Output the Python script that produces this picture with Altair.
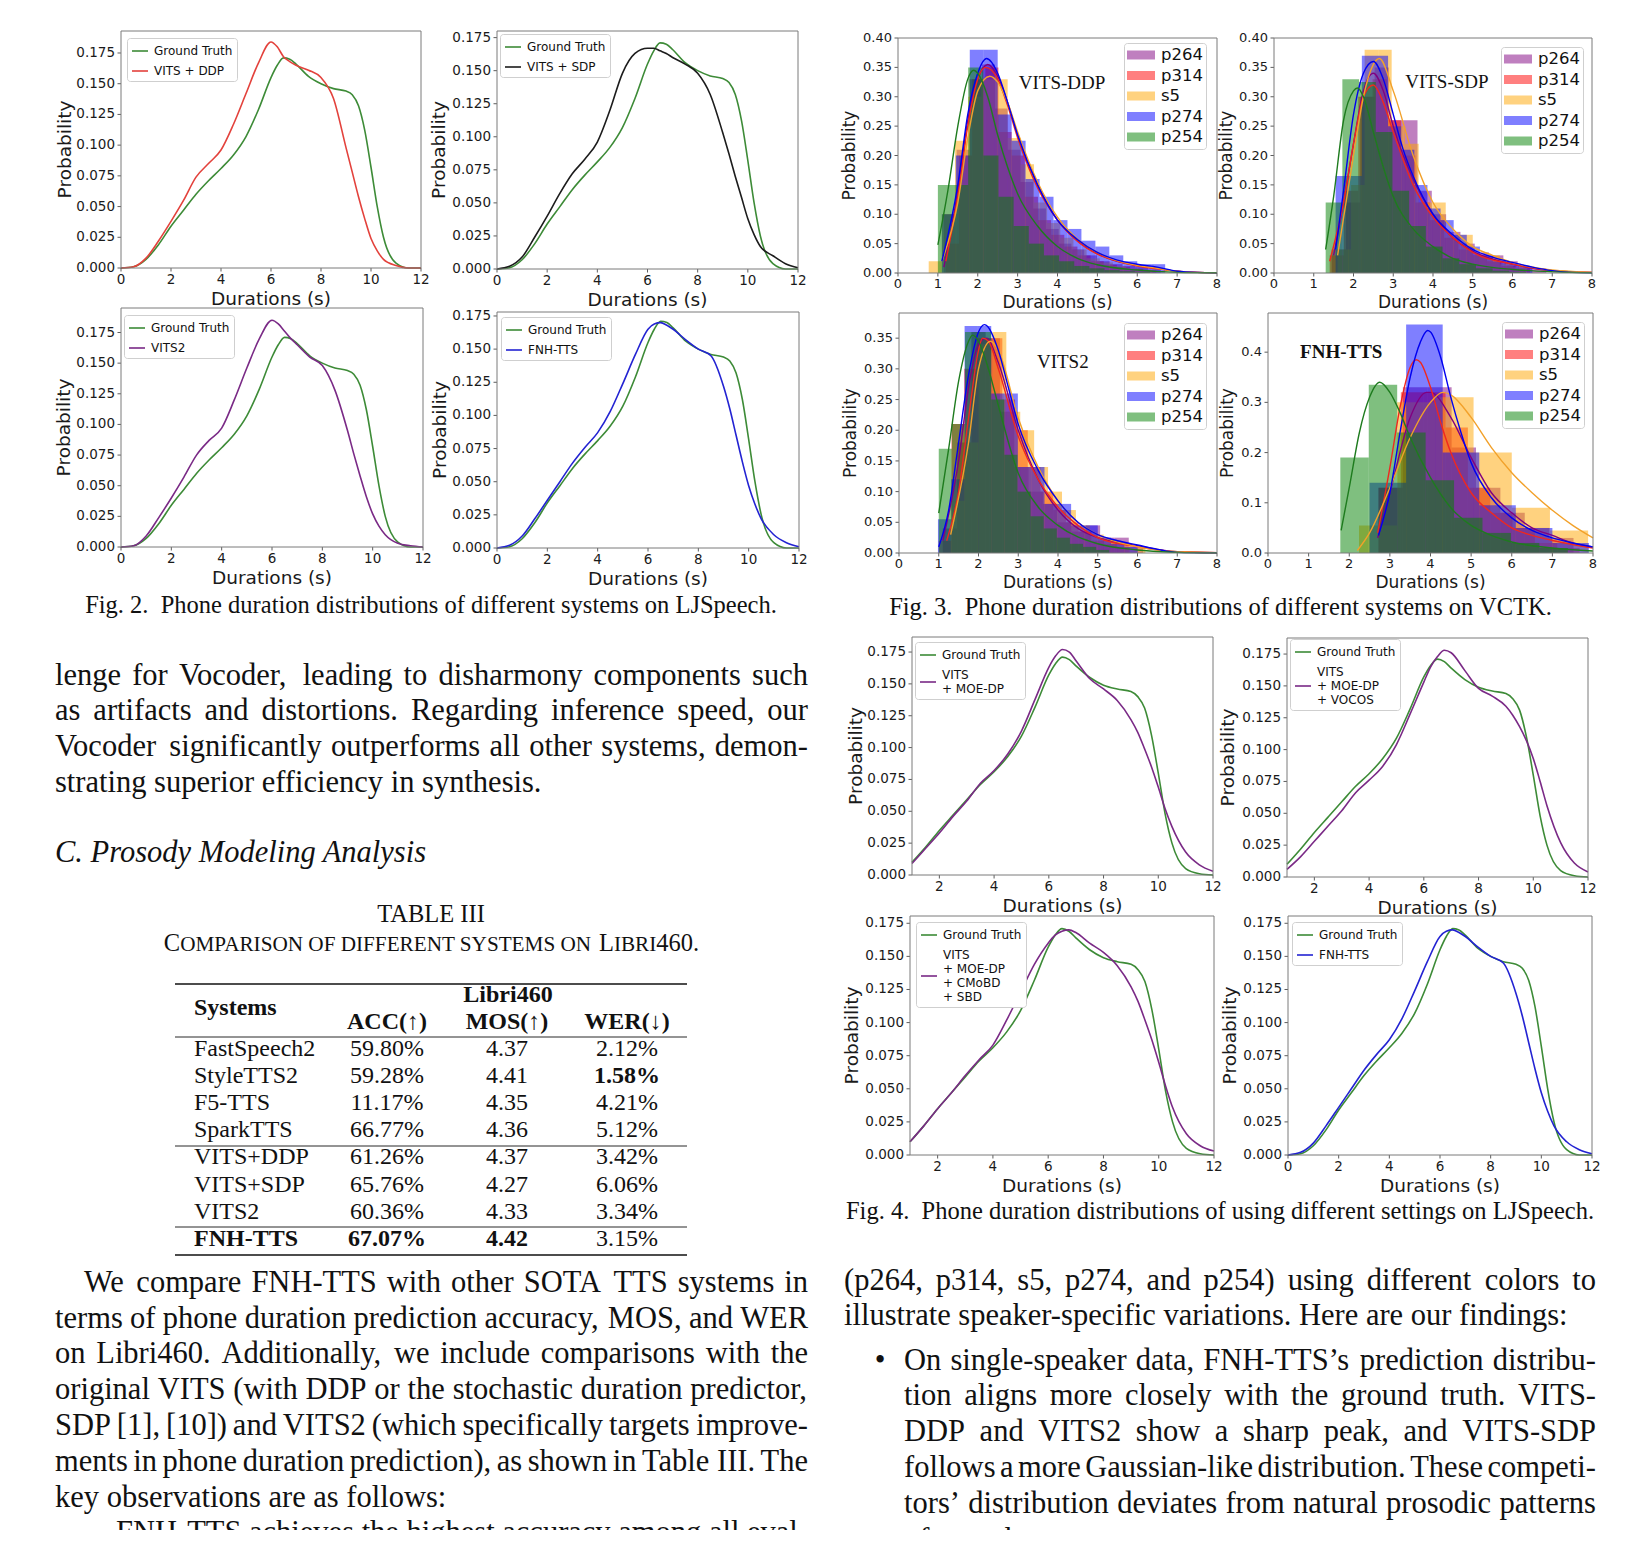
import altair as alt
import pandas as pd

W, H = 1632, 1522          # whole page (minus 8px margins) drawn as one canvas
M = 8                      # page margin
SANS = "DejaVu Sans"
SERIF = "Liberation Serif"
INK = "#111111"

# ----------------------------------------------------------------- Fig. 2 / Fig. 4 data
X_LJ = [0, 0.5, 1, 1.5, 2, 2.5, 3, 3.5, 4, 4.5, 5, 5.5, 6, 6.25, 6.5, 6.75, 7, 7.5,
        8, 8.5, 9, 9.25, 9.5, 9.75, 10, 10.25, 10.5, 11, 11.5, 12]
GT_LJ = [0.000, 0.001, 0.007, 0.019, 0.034, 0.047, 0.060, 0.071, 0.081, 0.092,
         0.107, 0.129, 0.155, 0.165, 0.171, 0.170, 0.166, 0.156, 0.150, 0.146,
         0.144, 0.141, 0.132, 0.112, 0.082, 0.050, 0.025, 0.004, 0.000, 0.000]
VITS_DDP = [0.000, 0.001, 0.008, 0.022, 0.038, 0.055, 0.074, 0.085, 0.096, 0.117,
            0.142, 0.167, 0.184, 0.180, 0.172, 0.168, 0.165, 0.161, 0.155, 0.138,
            0.098, 0.078, 0.058, 0.040, 0.024, 0.014, 0.007, 0.002, 0.000, 0.000]
VITS_SDP = [0.000, 0.002, 0.009, 0.024, 0.040, 0.057, 0.072, 0.083, 0.096, 0.120,
            0.148, 0.163, 0.167, 0.167, 0.165, 0.163, 0.160, 0.155, 0.148, 0.132,
            0.103, 0.087, 0.070, 0.054, 0.038, 0.026, 0.017, 0.010, 0.004, 0.001]
VITS2_LJ = [0.000, 0.001, 0.009, 0.024, 0.040, 0.057, 0.075, 0.087, 0.097, 0.120,
            0.146, 0.170, 0.185, 0.182, 0.176, 0.170, 0.165, 0.155, 0.148, 0.128,
            0.095, 0.076, 0.058, 0.041, 0.027, 0.017, 0.010, 0.003, 0.001, 0.000]
FNH_LJ = [0.000, 0.002, 0.009, 0.022, 0.036, 0.050, 0.064, 0.076, 0.087, 0.103,
          0.124, 0.146, 0.165, 0.169, 0.170, 0.168, 0.165, 0.157, 0.150, 0.145,
          0.122, 0.105, 0.085, 0.065, 0.047, 0.033, 0.022, 0.010, 0.004, 0.001]
X_LJ4 = X_LJ[2:]
GT_LJ4 = [0.010, 0.022, 0.035, 0.047, 0.059, 0.071, 0.081, 0.093,
          0.109, 0.132, 0.157, 0.166, 0.171, 0.169, 0.164, 0.155, 0.149, 0.146,
          0.144, 0.140, 0.131, 0.110, 0.080, 0.048, 0.025, 0.005, 0.001, 0.000]
MOE_DP = [0.009, 0.021, 0.033, 0.046, 0.058, 0.072, 0.082, 0.095,
          0.113, 0.138, 0.163, 0.172, 0.177, 0.175, 0.168, 0.154, 0.146, 0.137,
          0.122, 0.112, 0.099, 0.085, 0.069, 0.052, 0.038, 0.018, 0.008, 0.003]
MOE_DP_VOCOS = [0.006, 0.016, 0.028, 0.040, 0.052, 0.066, 0.076, 0.087,
                0.104, 0.128, 0.153, 0.165, 0.173, 0.178, 0.176, 0.162, 0.148, 0.142,
                0.134, 0.127, 0.118, 0.107, 0.093, 0.075, 0.056, 0.027, 0.011, 0.004]
MOE_DP_CMOBD_SBD = [0.010, 0.022, 0.035, 0.047, 0.060, 0.072, 0.083, 0.102,
                    0.123, 0.144, 0.160, 0.166, 0.169, 0.170, 0.168, 0.160, 0.153, 0.143,
                    0.127, 0.116, 0.102, 0.087, 0.070, 0.052, 0.036, 0.016, 0.007, 0.003]

C_GT, C_RED, C_BLACK, C_PURPLE, C_BLUE = "#3d8b37", "#e3423c", "#1c1c1c", "#7a2a86", "#2323d2"
LJ_YTICKS = [0.0, 0.025, 0.05, 0.075, 0.1, 0.125, 0.15, 0.175]

# ----------------------------------------------------------------- Fig. 3 data (VCTK)
SPEAKERS = ["p264", "p314", "s5", "p274", "p254"]
SPK_FILL = ["#800080", "#ff0000", "#ffa500", "#0000ff", "#008000"]
SPK_LINE = ["#800080", "#f0281e", "#f2a12a", "#0000f0", "#1e7b1e"]

# histogram: (first bin edge, bin width, bar heights)
DDP_HIST = {
    "p264": (1.15, 0.32, [0.10, 0.21, 0.33, 0.355, 0.28, 0.21, 0.155, 0.11, 0.075, 0.05, 0.04, 0.03, 0.02, 0.015, 0.012, 0.01, 0.006]),
    "p314": (1.20, 0.33, [0.05, 0.20, 0.33, 0.35, 0.24, 0.20, 0.13, 0.09, 0.065, 0.045, 0.03, 0.02, 0.014, 0.01, 0.007, 0.004]),
    "s5":   (0.77, 0.33, [0.02, 0.10, 0.225, 0.30, 0.33, 0.33, 0.23, 0.185, 0.12, 0.085, 0.06, 0.04, 0.025, 0.018, 0.012, 0.008, 0.005]),
    "p274": (1.10, 0.35, [0.10, 0.20, 0.38, 0.38, 0.27, 0.225, 0.16, 0.13, 0.09, 0.075, 0.055, 0.045, 0.03, 0.02, 0.015, 0.015]),
    "p254": (1.00, 0.38, [0.15, 0.15, 0.35, 0.20, 0.13, 0.08, 0.05, 0.03, 0.02, 0.012, 0.008, 0.005, 0.003, 0.002]),
}
DDP_KDE = {
    "p264": ([1.15, 1.5, 1.75, 2.0, 2.25, 2.5, 2.75, 3.0, 3.5, 4.0, 4.5, 5.0, 5.5, 6.0, 6.5, 7.0, 7.5, 8.0],
             [0.01, 0.14, 0.26, 0.33, 0.355, 0.335, 0.29, 0.235, 0.15, 0.09, 0.055, 0.033, 0.02, 0.013, 0.008, 0.003, 0.001, 0.0005]),
    "p314": ([1.2, 1.5, 1.75, 2.0, 2.2, 2.5, 2.75, 3.0, 3.5, 4.0, 4.5, 5.0, 5.5, 6.0, 6.5, 7.0, 7.5, 8.0],
             [0.02, 0.13, 0.25, 0.33, 0.35, 0.33, 0.285, 0.23, 0.145, 0.09, 0.054, 0.032, 0.02, 0.012, 0.007, 0.003, 0.001, 0.0005]),
    "s5":   ([1.1, 1.5, 1.75, 2.0, 2.3, 2.5, 2.75, 3.0, 3.5, 4.0, 4.5, 5.0, 5.5, 6.0, 6.5, 7.0, 7.5, 8.0],
             [0.02, 0.12, 0.23, 0.31, 0.335, 0.325, 0.29, 0.24, 0.155, 0.095, 0.058, 0.035, 0.021, 0.013, 0.008, 0.003, 0.001, 0.0005]),
    "p274": ([1.1, 1.5, 1.75, 2.0, 2.22, 2.5, 2.75, 3.0, 3.5, 4.0, 4.5, 5.0, 5.5, 6.0, 6.5, 7.0, 7.5, 8.0],
             [0.02, 0.15, 0.27, 0.34, 0.365, 0.34, 0.29, 0.235, 0.15, 0.09, 0.057, 0.035, 0.022, 0.015, 0.01, 0.003, 0.001, 0.0005]),
    "p254": ([1.0, 1.25, 1.5, 1.75, 1.9, 2.0, 2.25, 2.5, 2.75, 3.0, 3.5, 4.0, 4.5, 5.0, 6.0, 7.0, 8.0],
             [0.048, 0.14, 0.25, 0.33, 0.345, 0.34, 0.30, 0.235, 0.18, 0.135, 0.08, 0.045, 0.025, 0.014, 0.005, 0.001, 0.0003]),
}
SDP_HIST = {
    "p264": (1.45, 0.36, [0.04, 0.12, 0.30, 0.35, 0.26, 0.26, 0.14, 0.10, 0.07, 0.05, 0.035, 0.03, 0.02, 0.012, 0.008]),
    "p314": (1.40, 0.36, [0.03, 0.14, 0.30, 0.33, 0.26, 0.20, 0.12, 0.09, 0.06, 0.04, 0.03, 0.02, 0.012, 0.008]),
    "s5":   (1.60, 0.34, [0.04, 0.15, 0.38, 0.38, 0.25, 0.22, 0.12, 0.12, 0.065, 0.065, 0.03, 0.03, 0.015, 0.01]),
    "p274": (1.55, 0.33, [0.165, 0.165, 0.37, 0.37, 0.25, 0.21, 0.15, 0.11, 0.09, 0.065, 0.045, 0.03, 0.02, 0.015, 0.01]),
    "p254": (1.30, 0.42, [0.12, 0.33, 0.325, 0.24, 0.14, 0.08, 0.045, 0.025, 0.015, 0.008, 0.004, 0.002]),
}
SDP_KDE = {
    "p264": ([1.5, 1.75, 2.0, 2.25, 2.5, 2.75, 3.0, 3.5, 4.0, 4.5, 5.0, 6.0, 7.0, 8.0],
             [0.03, 0.12, 0.22, 0.31, 0.34, 0.31, 0.25, 0.16, 0.10, 0.06, 0.037, 0.015, 0.004, 0.001]),
    "p314": ([1.4, 1.75, 2.0, 2.25, 2.5, 2.75, 3.0, 3.5, 4.0, 4.5, 5.0, 6.0, 7.0, 8.0],
             [0.02, 0.12, 0.22, 0.30, 0.32, 0.29, 0.24, 0.15, 0.095, 0.06, 0.035, 0.015, 0.004, 0.001]),
    "s5":   ([1.6, 2.0, 2.25, 2.5, 2.65, 3.0, 3.5, 4.0, 4.5, 5.0, 5.5, 6.0, 7.0, 8.0],
             [0.03, 0.20, 0.30, 0.355, 0.365, 0.31, 0.20, 0.12, 0.075, 0.045, 0.03, 0.018, 0.005, 0.001]),
    "p274": ([1.55, 1.75, 2.0, 2.25, 2.5, 2.75, 3.0, 3.25, 3.5, 4.0, 4.5, 5.0, 5.5, 6.0, 6.5, 7.0, 7.5, 8.0],
             [0.04, 0.14, 0.27, 0.34, 0.36, 0.33, 0.27, 0.21, 0.165, 0.10, 0.065, 0.04, 0.027, 0.018, 0.01, 0.004, 0.001, 0.0005]),
    "p254": ([1.3, 1.5, 1.75, 2.0, 2.1, 2.25, 2.5, 2.75, 3.0, 3.5, 4.0, 4.5, 5.0, 6.0, 7.0, 8.0],
             [0.04, 0.13, 0.26, 0.31, 0.315, 0.30, 0.24, 0.18, 0.13, 0.075, 0.045, 0.025, 0.015, 0.006, 0.002, 0.0005]),
}
V2_HIST = {
    "p264": (1.10, 0.36, [0.04, 0.18, 0.36, 0.35, 0.23, 0.14, 0.10, 0.08, 0.05, 0.035, 0.045, 0.025, 0.025, 0.01]),
    "p314": (1.00, 0.32, [0.02, 0.21, 0.30, 0.35, 0.35, 0.25, 0.20, 0.14, 0.10, 0.07, 0.05, 0.035, 0.02, 0.015, 0.01]),
    "s5":   (1.30, 0.35, [0.085, 0.18, 0.34, 0.36, 0.23, 0.20, 0.14, 0.10, 0.07, 0.045, 0.03, 0.02, 0.012, 0.008]),
    "p274": (0.98, 0.335, [0.055, 0.12, 0.37, 0.37, 0.26, 0.26, 0.14, 0.14, 0.08, 0.08, 0.045, 0.045, 0.025, 0.015, 0.01]),
    "p254": (1.00, 0.33, [0.17, 0.21, 0.36, 0.36, 0.25, 0.16, 0.10, 0.06, 0.04, 0.025, 0.015, 0.01, 0.005]),
}
V2_KDE = {
    "p264": ([1.1, 1.5, 1.75, 2.0, 2.2, 2.5, 3.0, 3.5, 4.0, 4.5, 5.0, 6.0, 7.0, 8.0],
             [0.02, 0.15, 0.27, 0.34, 0.35, 0.31, 0.20, 0.12, 0.07, 0.04, 0.025, 0.012, 0.002, 0.0003]),
    "p314": ([1.2, 1.5, 1.75, 2.0, 2.1, 2.25, 2.5, 3.0, 3.5, 4.0, 4.5, 5.0, 6.0, 7.0, 8.0],
             [0.02, 0.10, 0.22, 0.33, 0.35, 0.345, 0.30, 0.19, 0.12, 0.075, 0.045, 0.025, 0.01, 0.002, 0.0003]),
    "s5":   ([1.3, 1.75, 2.0, 2.3, 2.5, 3.0, 3.5, 4.0, 4.5, 5.0, 6.0, 7.0, 8.0],
             [0.03, 0.18, 0.30, 0.345, 0.33, 0.22, 0.14, 0.085, 0.05, 0.03, 0.01, 0.002, 0.0003]),
    "p274": ([1.0, 1.25, 1.5, 1.75, 2.0, 2.15, 2.5, 2.75, 3.0, 3.5, 4.0, 4.5, 5.0, 5.5, 6.0, 6.5, 7.0, 8.0],
             [0.01, 0.07, 0.18, 0.29, 0.36, 0.372, 0.33, 0.27, 0.21, 0.135, 0.085, 0.05, 0.03, 0.02, 0.013, 0.006, 0.001, 0.0002]),
    "p254": ([1.0, 1.25, 1.5, 1.75, 1.85, 2.0, 2.25, 2.5, 3.0, 3.5, 4.0, 5.0, 6.0, 7.0, 8.0],
             [0.065, 0.17, 0.28, 0.345, 0.355, 0.345, 0.30, 0.24, 0.13, 0.075, 0.045, 0.015, 0.005, 0.001, 0.0002]),
}
FNH_HIST = {
    "p264": (2.72, 0.60, [0.13, 0.33, 0.33, 0.21, 0.13, 0.08, 0.05, 0.03]),
    "p314": (2.72, 0.55, [0.13, 0.32, 0.32, 0.25, 0.13, 0.08, 0.05, 0.02, 0.01]),
    "s5":   (2.24, 0.94, [0.055, 0.30, 0.31, 0.20, 0.09, 0.045]),
    "p274": (2.50, 0.90, [0.14, 0.455, 0.20, 0.095, 0.05, 0.02]),
    "p254": (1.78, 0.70, [0.19, 0.335, 0.24, 0.145, 0.07, 0.04, 0.02, 0.01]),
}
FNH_KDE = {
    "p264": ([2.7, 3.0, 3.5, 3.9, 4.0, 4.5, 5.0, 5.5, 6.0, 6.5, 7.0, 7.5, 8.0],
             [0.03, 0.12, 0.27, 0.32, 0.32, 0.27, 0.19, 0.12, 0.08, 0.05, 0.035, 0.02, 0.012]),
    "p314": ([2.7, 3.0, 3.25, 3.5, 3.65, 3.75, 4.0, 4.25, 4.5, 5.0, 5.5, 6.0, 6.5, 7.0, 7.5, 8.0],
             [0.04, 0.17, 0.29, 0.37, 0.385, 0.38, 0.33, 0.26, 0.20, 0.12, 0.08, 0.05, 0.035, 0.025, 0.017, 0.01]),
    "s5":   ([2.2, 2.5, 3.0, 3.5, 4.0, 4.3, 4.5, 5.0, 5.5, 6.0, 6.5, 7.0, 7.5, 8.0],
             [0.005, 0.04, 0.13, 0.23, 0.30, 0.32, 0.315, 0.27, 0.21, 0.16, 0.12, 0.085, 0.055, 0.03]),
    "p274": ([2.72, 3.0, 3.25, 3.5, 3.75, 3.93, 4.0, 4.25, 4.5, 4.75, 5.0, 5.5, 6.0, 6.5, 7.0, 7.5, 8.0],
             [0.035, 0.12, 0.24, 0.35, 0.42, 0.443, 0.44, 0.39, 0.31, 0.24, 0.18, 0.11, 0.07, 0.045, 0.03, 0.02, 0.012]),
    "p254": ([1.8, 2.0, 2.25, 2.5, 2.75, 3.0, 3.25, 3.5, 4.0, 4.5, 5.0, 5.5, 6.0, 7.0, 8.0],
             [0.045, 0.13, 0.24, 0.31, 0.34, 0.32, 0.28, 0.23, 0.15, 0.09, 0.055, 0.035, 0.022, 0.01, 0.004]),
}
FIG3_TITLES = ["VITS-DDP", "VITS-SDP", "VITS2", "FNH-TTS"]
FIG3_TITLE_AT = [(3.03, 0.323), (3.30, 0.325), (3.47, 0.311), (0.79, 0.40)]

# ----------------------------------------------------------------- Table III
TAB_SYSTEMS = ["FastSpeech2", "StyleTTS2", "F5-TTS", "SparkTTS", "VITS+DDP", "VITS+SDP", "VITS2", "FNH-TTS"]
TAB_ACC = ["59.80%", "59.28%", "11.17%", "66.77%", "61.26%", "65.76%", "60.36%", "67.07%"]
TAB_MOS = ["4.37", "4.41", "4.35", "4.36", "4.37", "4.27", "4.33", "4.42"]
TAB_WER = ["2.12%", "1.58%", "4.21%", "5.12%", "3.42%", "6.06%", "3.34%", "3.15%"]
TAB_BOLD = {(1, 3), (7, 0), (7, 1), (7, 2)}

# ----------------------------------------------------------------- running text
LEFT_P1 = ["lenge for Vocoder, leading to disharmony components such",
           "as artifacts and distortions. Regarding inference speed, our",
           "Vocoder significantly outperforms all other systems, demon-",
           "strating superior efficiency in synthesis."]
HEADING = "C. Prosody Modeling Analysis"
LEFT_P2 = ["We compare FNH-TTS with other SOTA TTS systems in",
           "terms of phone duration prediction accuracy, MOS, and WER",
           "on Libri460. Additionally, we include comparisons with the",
           "original VITS (with DDP or the stochastic duration predictor,",
           "SDP [1], [10]) and VITS2 (which specifically targets improve-",
           "ments in phone duration prediction), as shown in Table III. The",
           "key observations are as follows:",
           "FNH-TTS achieves the highest accuracy among all eval-"]
RIGHT_P = ["(p264, p314, s5, p274, and p254) using different colors to",
           "illustrate speaker-specific variations. Here are our findings:"]
RIGHT_BULLET = ["On single-speaker data, FNH-TTS\u2019s prediction distribu-",
                "tion aligns more closely with the ground truth. VITS-",
                "DDP and VITS2 show a sharp peak, and VITS-SDP",
                "follows a more Gaussian-like distribution. These competi-",
                "tors\u2019 distribution deviates from natural prosodic patterns",
                "of speech."]
CAPTIONS = ["Fig. 2.\u00a0 Phone duration distributions of different systems on LJSpeech.",
            "Fig. 3.\u00a0 Phone duration distributions of different systems on VCTK.",
            "Fig. 4.\u00a0 Phone duration distributions of using different settings on LJSpeech."]

# Times-Roman advance widths (em) used to justify lines
TIMES = {" ": .25, "a": .444, "b": .5, "c": .444, "d": .5, "e": .444, "f": .333, "g": .5, "h": .5,
         "i": .278, "j": .278, "k": .5, "l": .278, "m": .778, "n": .5, "o": .5, "p": .5, "q": .5,
         "r": .333, "s": .389, "t": .278, "u": .5, "v": .5, "w": .722, "x": .5, "y": .5, "z": .444,
         "A": .722, "B": .667, "C": .667, "D": .722, "E": .611, "F": .556, "G": .722, "H": .722,
         "I": .333, "J": .389, "K": .722, "L": .611, "M": .889, "N": .722, "O": .722, "P": .556,
         "Q": .722, "R": .667, "S": .556, "T": .611, "U": .722, "V": .722, "W": .944, "X": .722,
         "Y": .722, "Z": .611, ",": .25, ".": .25, "-": .333, "(": .333, ")": .333, "[": .333,
         "]": .333, ":": .278, ";": .278, "\u2019": .333, "%": .833, "+": .564}


def tw(s):
    return sum(TIMES.get(c, 0.5) for c in s)


# ================================================================= builders
def scales(box, xdom, ydom):
    x0, y0, x1, y1 = box
    xs = alt.Scale(domain=list(xdom), range=[x0 - M, x1 - M], nice=False, zero=False)
    ys = alt.Scale(domain=list(ydom), range=[y1 - M, y0 - M], nice=False, zero=False)
    return xs, ys


def axes_layers(xs, ys, xdom, ydom, xticks, yticks, yfmt, lab, tit, xlab_off, xtit_off, ytit_off):
    """matplotlib-like axes (ticks, tick labels, titles) drawn through the panel's scales"""
    xt = pd.DataFrame({"v": xticks, "b": [ydom[0]] * len(xticks), "t": [str(v) for v in xticks]})
    yt = pd.DataFrame({"v": yticks, "b": [xdom[0]] * len(yticks), "t": [format(v, yfmt) for v in yticks]})
    X = lambda f: alt.X(f, scale=xs, axis=None)
    Y = lambda f: alt.Y(f, scale=ys, axis=None)
    tick_x = alt.Chart(xt).mark_rule(color="#333333", strokeWidth=0.8, y2Offset=3.5).encode(
        x=X("v:Q"), y=Y("b:Q"), y2="b:Q")
    tick_y = alt.Chart(yt).mark_rule(color="#333333", strokeWidth=0.8, x2Offset=-3.5).encode(
        x=X("b:Q"), x2="b:Q", y=Y("v:Q"))
    lab_x = alt.Chart(xt).mark_text(font=SANS, fontSize=lab, color="#1a1a1a", align="center",
                                    baseline="middle", yOffset=xlab_off).encode(
        x=X("v:Q"), y=Y("b:Q"), text="t:N")
    lab_y = alt.Chart(yt).mark_text(font=SANS, fontSize=lab, color="#1a1a1a", align="right",
                                    baseline="middle", xOffset=-6).encode(
        x=X("b:Q"), y=Y("v:Q"), text="t:N")
    tx = pd.DataFrame({"x": [(xdom[0] + xdom[1]) / 2], "y": [ydom[0]], "t": ["Durations (s)"]})
    ty = pd.DataFrame({"x": [xdom[0]], "y": [(ydom[0] + ydom[1]) / 2], "t": ["Probability"]})
    tit_x = alt.Chart(tx).mark_text(font=SANS, fontSize=tit, color="#1a1a1a", align="center",
                                    baseline="middle", yOffset=xtit_off).encode(
        x=X("x:Q"), y=Y("y:Q"), text="t:N")
    tit_y = alt.Chart(ty).mark_text(font=SANS, fontSize=tit, color="#1a1a1a", align="center",
                                    baseline="middle", angle=270, xOffset=-ytit_off).encode(
        x=X("x:Q"), y=Y("y:Q"), text="t:N")
    return [tick_x, tick_y, lab_x, lab_y, tit_x, tit_y]


def frame(xs, ys, xdom, ydom):
    df = pd.DataFrame({"a": [xdom[0]], "b": [xdom[1]], "c": [ydom[0]], "d": [ydom[1]]})
    return alt.Chart(df).mark_rect(fillOpacity=0, stroke="#7a7a7a", strokeWidth=1).encode(
        x=alt.X("a:Q", scale=xs, axis=None), x2="b",
        y=alt.Y("c:Q", scale=ys, axis=None), y2="d")


def line_panel(box, xdom, ytop, xticks, series, legend_at, ytit_off=57):
    ydom = (0, ytop)
    xs, ys = scales(box, xdom, ydom)
    rows = []
    for name, col, xv, yv in series:
        rows += [{"x": a, "p": b, "s": name} for a, b in zip(xv, yv)]
    names = [s[0] for s in series]
    cols = [s[1] for s in series]
    nl = max(len(n.split("|")) for n in names)
    if nl > 1:
        # centre the swatch of a multi-line entry on its block of label lines
        sym = alt.ExprRef(expr="datum.index == 0 ? 'stroke' : 'M-1,%.3fH1'" % (7.0 * (nl - 1) / 8.0))
    else:
        sym = "stroke"
    lx, ly = legend_at
    leg = alt.Legend(orient="none", legendX=lx - M, legendY=ly - M, title=None,
                     symbolType=sym, symbolSize=256, symbolStrokeWidth=1.6,
                     labelFont=SANS, labelFontSize=12, labelColor=INK, labelOffset=5, labelLimit=400,
                     labelExpr="split(datum.label, '|')",
                     padding=4, rowPadding=5, fillColor="white", strokeColor="#cfcfcf", cornerRadius=3)
    lines = alt.Chart(pd.DataFrame(rows)).mark_line(strokeWidth=1.6, interpolate="monotone").encode(
        x=alt.X("x:Q", scale=xs, axis=None),
        y=alt.Y("p:Q", scale=ys, axis=None),
        color=alt.Color("s:N", scale=alt.Scale(domain=names, range=cols), legend=leg))
    ax = axes_layers(xs, ys, xdom, ydom, xticks, LJ_YTICKS, ".3f", 13.5, 18.5, 12, 31, ytit_off)
    return alt.layer(lines, *ax, frame(xs, ys, xdom, ydom))


def hist_panel(box, ytop, yticks, yfmt, hist, kde, title, title_at, bold, legend_at, ytit_off):
    xdom, ydom = (0, 8), (0, ytop)
    xs, ys = scales(box, xdom, ydom)
    bars = []
    for spk in SPEAKERS:
        start, width, hs = hist[spk]
        for i, h in enumerate(hs):
            bars.append({"a": start + i * width, "b": start + (i + 1) * width, "h": h, "z": 0, "s": spk})
    curves = []
    for spk in SPEAKERS:
        xv, yv = kde[spk]
        curves += [{"x": a, "p": b, "s": spk} for a, b in zip(xv, yv)]
    lx, ly = legend_at
    # 28x9 px swatch drawn from an 18px nominal symbol so that rows stay compact
    leg = alt.Legend(orient="none", legendX=lx - M, legendY=ly - M, title=None,
                     symbolType="M-1,-0.5H2.11V0.5H-1Z", symbolSize=324, symbolOpacity=0.5,
                     symbolStrokeWidth=0, labelFont=SANS, labelFontSize=16.5, labelColor=INK,
                     labelOffset=16, padding=3, rowPadding=2.5, fillColor="white",
                     strokeColor="#cfcfcf", cornerRadius=3)
    bar_layer = alt.Chart(pd.DataFrame(bars)).mark_rect(opacity=0.5).encode(
        x=alt.X("a:Q", scale=xs, axis=None), x2="b",
        y=alt.Y("h:Q", scale=ys, axis=None), y2="z",
        color=alt.Color("s:N", scale=alt.Scale(domain=SPEAKERS, range=SPK_FILL), legend=leg))
    kde_layer = alt.Chart(pd.DataFrame(curves)).mark_line(strokeWidth=1.4, interpolate="monotone").encode(
        x=alt.X("x:Q", scale=xs, axis=None),
        y=alt.Y("p:Q", scale=ys, axis=None),
        color=alt.Color("s:N", scale=alt.Scale(domain=SPEAKERS, range=SPK_LINE), legend=None))
    tdf = pd.DataFrame({"x": [title_at[0]], "y": [title_at[1]], "t": [title]})
    ttl = alt.Chart(tdf).mark_text(font=SERIF, fontSize=19, fontWeight="bold" if bold else "normal",
                                   align="left", baseline="middle", color=INK).encode(
        x=alt.X("x:Q", scale=xs, axis=None), y=alt.Y("y:Q", scale=ys, axis=None), text="t:N")
    ax = axes_layers(xs, ys, xdom, ydom, [0, 1, 2, 3, 4, 5, 6, 7, 8], yticks, yfmt, 13, 17, 11, 30, ytit_off)
    return alt.layer(bar_layer, kde_layer, ttl, *ax, frame(xs, ys, xdom, ydom)).resolve_scale(color="independent")


def tlayer(rows, size, weight="normal", style="normal", align="left", baseline="middle"):
    return alt.Chart(pd.DataFrame(rows)).mark_text(
        font=SERIF, fontSize=size, fontWeight=weight, fontStyle=style, align=align,
        baseline=baseline, color=INK).encode(
        x=alt.X("x:Q", scale=None, axis=None), y=alt.Y("y:Q", scale=None, axis=None), text="t:N")


def line_rows(line, xl, xr, y, fs, just=True):
    if not just:
        return [{"x": xl - M, "y": y - M, "t": line}]
    words = line.split(" ")
    ws = [tw(w) * fs for w in words]
    gap = (xr - xl - sum(ws)) / (len(words) - 1)
    out, x = [], xl
    for w, wd in zip(words, ws):
        out.append({"x": x - M, "y": y - M, "t": w})
        x += wd + gap
    return out


# ================================================================= panels
XT12 = [0, 2, 4, 6, 8, 10, 12]
XT12b = [2, 4, 6, 8, 10, 12]
panels = [
    line_panel((121, 31, 421, 268), (0, 12), 0.1929, XT12,
               [("Ground Truth", C_GT, X_LJ, GT_LJ), ("VITS + DDP", C_RED, X_LJ, VITS_DDP)], (127, 38), 56),
    line_panel((497, 31, 798, 269), (0, 12), 0.180, XT12,
               [("Ground Truth", C_GT, X_LJ, GT_LJ), ("VITS + SDP", C_BLACK, X_LJ, VITS_SDP)], (500, 34), 58),
    line_panel((121, 308, 423, 547), (0, 12), 0.195, XT12,
               [("Ground Truth", C_GT, X_LJ, GT_LJ), ("VITS2", C_PURPLE, X_LJ, VITS2_LJ)], (124, 315), 57),
    line_panel((497, 312, 799, 548), (0, 12), 0.178, XT12,
               [("Ground Truth", C_GT, X_LJ, GT_LJ), ("FNH-TTS", C_BLUE, X_LJ, FNH_LJ)], (501, 317), 57),
    line_panel((912, 637, 1213, 875), (1, 12), 0.1868, XT12b,
               [("Ground Truth", C_GT, X_LJ4, GT_LJ4), ("VITS|\u00a0+ MOE-DP", C_PURPLE, X_LJ4, MOE_DP)], (915, 642), 56),
    line_panel((1287, 638, 1588, 877), (1, 12), 0.1876, XT12b,
               [("Ground Truth", C_GT, X_LJ4, GT_LJ4),
                ("VITS|\u00a0+ MOE-DP|\u00a0+ VOCOS", C_PURPLE, X_LJ4, MOE_DP_VOCOS)], (1290, 639), 59),
    line_panel((910, 916, 1214, 1155), (1, 12), 0.1805, XT12b,
               [("Ground Truth", C_GT, X_LJ4, GT_LJ4),
                ("VITS|\u00a0+ MOE-DP|\u00a0+ CMoBD|\u00a0+ SBD", C_PURPLE, X_LJ4, MOE_DP_CMOBD_SBD)], (916, 922), 58),
    line_panel((1288, 916, 1592, 1155), (0, 12), 0.1805, XT12,
               [("Ground Truth", C_GT, X_LJ, GT_LJ), ("FNH-TTS", C_BLUE, X_LJ, FNH_LJ)], (1292, 922), 58),
]
Y40 = [0.0, 0.05, 0.1, 0.15, 0.2, 0.25, 0.3, 0.35, 0.4]
panels += [
    hist_panel((898, 38, 1217, 273), 0.40, Y40, ".2f", DDP_HIST, DDP_KDE,
               FIG3_TITLES[0], FIG3_TITLE_AT[0], False, (1124, 43), 48),
    hist_panel((1274, 38, 1592, 273), 0.40, Y40, ".2f", SDP_HIST, SDP_KDE,
               FIG3_TITLES[1], FIG3_TITLE_AT[1], False, (1501, 47), 47),
    hist_panel((899, 313, 1217, 553), 0.391, Y40[:-1], ".2f", V2_HIST, V2_KDE,
               FIG3_TITLES[2], FIG3_TITLE_AT[2], False, (1124, 323), 48),
    hist_panel((1268, 313, 1593, 553), 0.478, [0.0, 0.1, 0.2, 0.3, 0.4], ".1f", FNH_HIST, FNH_KDE,
               FIG3_TITLES[3], FIG3_TITLE_AT[3], True, (1502, 322), 40),
]

# ================================================================= text
FS = 30.5
LH = 35.8
body = []
for i, ln in enumerate(LEFT_P1):
    body += line_rows(ln, 55, 808, 675.6 + i * LH, FS, just=i < len(LEFT_P1) - 1)
for i, ln in enumerate(LEFT_P2):
    xl = 84 if i == 0 else (116 if i == 7 else 55)
    body += line_rows(ln, xl, 808, 1282.8 + i * LH, FS, just=i != 6)
for i, ln in enumerate(RIGHT_P):
    body += line_rows(ln, 844, 1596, 1280.6 + i * LH, FS, just=i == 0)
for i, ln in enumerate(RIGHT_BULLET):
    body += line_rows(ln, 904, 1596, 1360.6 + i * LH, FS, just=i < len(RIGHT_BULLET) - 1)

heading = [{"x": 55 - M, "y": 853.4 - M, "t": HEADING}]
bullet = [{"x": 880 - M, "y": 1360.6 - M, "t": "\u2022"}]
captions = [{"x": 431 - M, "y": 606 - M, "t": CAPTIONS[0]},
            {"x": 1220.5 - M, "y": 608 - M, "t": CAPTIONS[1]},
            {"x": 1220 - M, "y": 1212 - M, "t": CAPTIONS[2]},
            {"x": 431 - M, "y": 915 - M, "t": "TABLE III"}]

# small-caps table caption
BIG, SMALL = 24.5, 21.2
runs = [("C", BIG), ("OMPARISON OF DIFFERENT SYSTEMS ON ", SMALL), ("L", BIG), ("IBRI", SMALL), ("460.", BIG)]
total = sum(tw(t) * s for t, s in runs)
cx = 431.5 - total / 2
sc_big, sc_small = [], []
for t, s in runs:
    (sc_big if s == BIG else sc_small).append({"x": cx - M, "y": 950.5 - M, "t": t.strip()})
    cx += tw(t) * s

# table
COLX = [194, 387, 507, 627]
tab_reg_l, tab_reg_c, tab_bold_l, tab_bold_c = [], [], [], []
for i in range(len(TAB_SYSTEMS)):
    y = 1049 + i * 27.1 - M
    cells = [TAB_SYSTEMS[i], TAB_ACC[i], TAB_MOS[i], TAB_WER[i]]
    for j, c in enumerate(cells):
        row = {"x": COLX[j] - M, "y": y, "t": c}
        if (i, j) in TAB_BOLD:
            (tab_bold_l if j == 0 else tab_bold_c).append(row)
        else:
            (tab_reg_l if j == 0 else tab_reg_c).append(row)
tab_bold_l.append({"x": 194 - M, "y": 1008 - M, "t": "Systems"})
tab_bold_c += [{"x": 508 - M, "y": 995 - M, "t": "Libri460"},
               {"x": 387 - M, "y": 1022 - M, "t": "ACC(\u2191)"},
               {"x": 507 - M, "y": 1022 - M, "t": "MOS(\u2191)"},
               {"x": 627 - M, "y": 1022 - M, "t": "WER(\u2193)"}]
rule_rows = [{"x": 175 - M, "x2": 687 - M, "y": yy - M, "w": w}
             for yy, w in [(984, 1.4), (1037, 0.9), (1146, 0.9), (1227, 0.9), (1255, 1.4)]]
rules = alt.Chart(pd.DataFrame(rule_rows)).mark_rule(color=INK).encode(
    x=alt.X("x:Q", scale=None, axis=None), x2="x2:Q",
    y=alt.Y("y:Q", scale=None, axis=None), size=alt.Size("w:Q", scale=None, legend=None))

texts = [
    tlayer(body, FS),
    tlayer(heading, FS, style="italic"),
    tlayer(bullet, FS, align="center"),
    tlayer(captions, 24.5, align="center"),
    tlayer(sc_big, BIG, baseline="alphabetic"),
    tlayer(sc_small, SMALL, baseline="alphabetic"),
    tlayer(tab_reg_l, 24),
    tlayer(tab_reg_c, 24, align="center"),
    tlayer(tab_bold_l, 24, weight="bold"),
    tlayer(tab_bold_c, 24, weight="bold", align="center"),
    rules,
]

chart = alt.layer(*panels, *texts).resolve_scale(
    x="independent", y="independent", color="independent"
).properties(
    width=W, height=H, padding=0, background="white",
    autosize=alt.AutoSizeParams(type="none"),
).configure_view(strokeOpacity=0)

chart.save("out.html", embed_options={"renderer": "svg", "actions": False})
